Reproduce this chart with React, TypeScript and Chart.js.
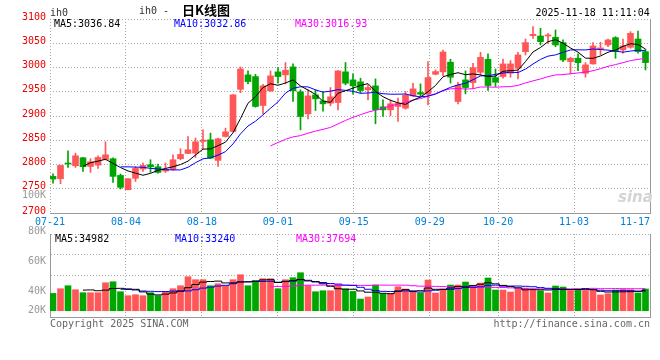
import React, { useEffect, useRef } from "react";
import { Chart, registerables } from "chart.js";

Chart.register(...registerables);

// ---------------- data ----------------
const dates = [
  "07-21", "07-22", "07-23", "07-24", "07-25", "07-28", "07-29", "07-30", "07-31", "08-01",
  "08-04", "08-05", "08-06", "08-07", "08-08", "08-11", "08-12", "08-13", "08-14", "08-15",
  "08-18", "08-19", "08-20", "08-21", "08-22", "08-25", "08-26", "08-27", "08-28", "08-29",
  "09-01", "09-02", "09-03", "09-04", "09-05", "09-08", "09-09", "09-10", "09-11", "09-12",
  "09-15", "09-16", "09-17", "09-18", "09-19", "09-22", "09-23", "09-24", "09-25", "09-26",
  "09-29", "09-30", "10-09", "10-10", "10-13", "10-14", "10-15", "10-16", "10-17",
  "10-20", "10-21", "10-22", "10-23", "10-24", "10-27", "10-28", "10-29", "10-30", "10-31",
  "11-03", "11-04", "11-05", "11-06", "11-07", "11-10", "11-11", "11-12", "11-13", "11-14",
  "11-17",
];

const opens = [
  2775.5, 2770.7, 2802, 2797.4, 2813.9, 2796, 2798.8, 2810.5, 2811.9, 2777.5,
  2748, 2771.4, 2790.6, 2799.5, 2795.4, 2786.4, 2789.9, 2811.9, 2822.8, 2823.5,
  2847.5, 2850.9, 2808.4, 2857.8, 2868.1, 2955, 2984.8, 2981.3, 2921.6, 2951.8,
  2991, 2984.8, 3001.2, 2949.8, 2904.5, 2943.6, 2931.2, 2926.4, 2927.8, 2991,
  2974.5, 2970.4, 2953.9, 2962.1, 2918.9, 2912.7, 2919.6, 2916.1, 2941.5, 2948.4,
  2945, 2986.1, 2991, 3011, 2929.8, 2974.4, 2968.9, 2990.2, 3017,
  2979.2, 2981.3, 2988.1, 2998.4, 3032.7, 3065.7, 3065, 3065, 3062.3, 3051.3,
  3012.2, 3019.1, 2988.1, 3007.4, 3038.2, 3046.5, 3061.6, 3036.2, 3041.7, 3058.8,
  3032.7,
];

const highs = [
  2781, 2798.5, 2828.3, 2823.5, 2815, 2811.9, 2818, 2846.8, 2813.5, 2780.3,
  2771, 2796, 2803, 2809.8, 2800.9, 2803, 2820, 2832.4, 2857.8, 2854.4,
  2871.5, 2864.7, 2854.4, 2875, 2944, 3001, 2993, 2986.1, 2965.5, 2993,
  2999.9, 3010.2, 3007.4, 2953.9, 2953.9, 2953.9, 2950.5, 2958.7, 2993.5, 3010.2,
  2986.8, 2977.9, 2964.2, 2976.5, 2933.3, 2933.3, 2936.7, 2950.5, 2967.6, 2966.2,
  3012.2, 2995, 3036, 3017, 2969.6, 2993, 3008.7, 3031.4, 3028,
  2997, 3017.6, 3014.2, 3031.4, 3058.8, 3084.2, 3080.8, 3070.5, 3077.4, 3056.8,
  3021.1, 3028, 3010.1, 3051.3, 3052, 3058.8, 3063.6, 3058.8, 3073.9, 3075.3,
  3037.6,
];

const lows = [
  2761.7, 2760.4, 2794, 2794, 2785.8, 2783.7, 2792, 2809.5, 2763, 2749.4,
  2747.5, 2765, 2785.8, 2783.7, 2782.3, 2783.7, 2788.5, 2809.8, 2822.1, 2814.6,
  2832.4, 2811.9, 2796, 2856.4, 2867, 2948, 2966.2, 2918.2, 2904.5, 2950.5,
  2967.6, 2966.2, 2929.9, 2871.5, 2894.2, 2911.3, 2910, 2921, 2912.7, 2964.2,
  2945, 2947, 2933.3, 2883.9, 2899, 2900.4, 2888.7, 2914.1, 2940.2, 2941.5,
  2923, 2984.8, 2983, 2968, 2925, 2945.6, 2957.3, 2984.7, 2952.5,
  2960.7, 2977.9, 2979.9, 2976.5, 3025.9, 3060.2, 3046.5, 3049.9, 3043, 3012.2,
  2986.8, 2993.6, 2979.9, 3007, 3025.9, 3043, 3019, 3029.3, 3039.6, 3029.3,
  2995,
];

const closes = [
  2770, 2798.1, 2801, 2818, 2795.4, 2805.7, 2814.6, 2820, 2775.5, 2752.8,
  2770.7, 2792, 2798.1, 2795.4, 2783.7, 2789.9, 2809.8, 2820.8, 2830.4, 2846.8,
  2850.3, 2813.2, 2853, 2867.4, 2943.6, 2997, 2971, 2919.6, 2962.1, 2982.7,
  2981.3, 2994.4, 2951.8, 2899, 2941.5, 2935.4, 2925.1, 2939.5, 2993, 2967.6,
  2962.1, 2952.5, 2958.7, 2912.7, 2912.7, 2925.1, 2926.4, 2942.9, 2956, 2945,
  2979.3, 2991.6, 3032, 2980, 2963.4, 2958.6, 2999.8, 3021.1, 2962.8,
  2969.6, 3007.4, 3007.4, 3025.9, 3051.3, 3068.4, 3053.3, 3067.1, 3046.5, 3015.6,
  3019.1, 3010.1, 3005.3, 3044.4, 3040.3, 3056.8, 3032.7, 3044.4, 3070.5, 3032.7,
  3010.1,
];

const volumes = [
  29500, 37500, 42600, 35800, 30700, 30700, 30700, 47700, 49400, 32400,
  25600, 27300, 25600, 30700, 25600, 32400, 37500, 42600, 58000, 52900,
  52900, 42600, 46000, 42600, 52900, 61400, 42600, 51200, 54600, 54600,
  37500, 52900, 56300, 64800, 42600, 32400, 34100, 34100, 44300, 37500,
  32900, 19900, 23400, 43800, 28500, 29500, 40900, 37000, 32900, 30200,
  52300, 30200, 37000, 43800, 43800, 48900, 42100, 47200, 55800,
  35300, 35300, 31900, 37000, 38700, 37000, 34100, 30200, 42100, 40400,
  34600, 34600, 34600, 34600, 26800, 29000, 35300, 35800, 35800, 30200,
  37000,
];

const tickDates = ["07-21", "08-04", "08-18", "09-01", "09-15", "09-29", "10-20", "11-03", "11-17"];
const priceTicks = [2700, 2750, 2800, 2850, 2900, 2950, 3000, 3050, 3100];
const volAxisLabels = ["100K", "80K", "60K", "40K", "20K"];
const priceMaLegend = ["MA5:3036.84", "MA10:3032.86", "MA30:3016.93"];
const volMaLegend = ["MA5:34982", "MA10:33240", "MA30:37694"];
const maPeriods = [5, 10, 30];
const symbol = "ih0";
const titleName = "日K线图";
const timestamp = "2025-11-18 11:11:04";
const copyright = "Copyright 2025 SINA.COM";
const sourceUrl = "http://finance.sina.com.cn";

// ---------------- styles ----------------
const FONT = "'DejaVu Sans Mono', 'Liberation Mono', monospace";
const UP = "#ff5757";
const DOWN = "#00a600";
const GRID = "#aaaaaa";
const FRAME = "#999999";
const MA_COLORS = ["#000000", "#0000ff", "#ff00ff"];
const DATE_COLOR = "#0080d8";
const PRICE_LABEL = "#ee0000";
const VOL_LABEL = "#999999";

function movingAverage(values: number[], n: number): (number | null)[] {
  return values.map((_, i) => {
    if (i < n - 1) return null;
    let s = 0;
    for (let k = i - n + 1; k <= i; k++) s += values[k];
    return s / n;
  });
}

const candleColors = closes.map((c, i) => (c >= opens[i] ? UP : DOWN));
const pt = (i: number, y: any) => ({ x: i, y });

const X_MIN = -0.4;
const X_MAX = dates.length - 0.4;

function candleAxis() {
  return {
    type: "linear",
    display: false,
    offset: false,
    grid: { offset: false },
    min: X_MIN,
    max: X_MAX,
  };
}

function labelAxis(showLabels: boolean) {
  return {
    type: "linear",
    position: "bottom",
    offset: false,
    min: 0,
    max: dates.length - 1,
    afterBuildTicks: (s: any) => {
      s.ticks = [{ value: 0 }, ...tickDates.map((d) => ({ value: dates.indexOf(d) }))];
    },
    afterFit: (s: any) => {
      s.height = showLabels ? 19 : 0;
    },
    ticks: {
      display: showLabels,
      autoSkip: false,
      maxRotation: 0,
      minRotation: 0,
      align: "inner",
      padding: 3,
      color: DATE_COLOR,
      font: { family: FONT, size: 10 },
      callback: (_v: any, i: number) => (i === 0 ? "" : tickDates[i - 1]),
    },
    grid: { color: GRID, lineWidth: 1, drawTicks: false, offset: false },
    border: { display: true, color: FRAME, dash: [1, 2] },
  };
}

function rightFrame() {
  return {
    type: "linear",
    position: "right",
    min: 0,
    max: 1,
    ticks: { display: false },
    grid: { display: false, drawTicks: false },
    border: { display: true, color: FRAME },
    afterFit: (s: any) => {
      s.width = 0;
    },
  };
}

function maLines(values: number[], stepped: boolean) {
  return maPeriods.map((n, k) => ({
    type: "line",
    label: "MA" + n,
    data: movingAverage(values, n).map((v, i) => pt(i, v)),
    borderColor: MA_COLORS[k],
    borderWidth: 1,
    pointRadius: 0,
    tension: 0,
    stepped: stepped ? "middle" : false,
    spanGaps: false,
    xAxisID: "x",
    yAxisID: "y",
    order: 0,
  }));
}

const baseOptions = {
  responsive: false,
  animation: false,
  devicePixelRatio: 1,
  events: [],
  plugins: { legend: { display: false }, tooltip: { enabled: false } },
};

function priceConfig(): any {
  return {
    type: "bar",
    data: {
      datasets: [
        ...maLines(closes, false),
        {
          type: "bar",
          label: "body",
          data: opens.map((o, i) => pt(i, [o, closes[i]])),
          backgroundColor: candleColors,
          borderWidth: 0,
          barThickness: 6,
          minBarLength: 1,
          grouped: false,
          xAxisID: "x",
          yAxisID: "y",
          order: 1,
        },
        {
          type: "bar",
          label: "wick",
          data: lows.map((l, i) => pt(i, [l, highs[i]])),
          backgroundColor: candleColors,
          borderWidth: 0,
          barThickness: 1,
          grouped: false,
          xAxisID: "x",
          yAxisID: "y",
          order: 2,
        },
      ],
    },
    options: {
      ...baseOptions,
      layout: { padding: { left: 0, top: 19, right: 10, bottom: 0 } },
      scales: {
        x: candleAxis(),
        xLab: labelAxis(true),
        y: {
          type: "linear",
          position: "left",
          min: priceTicks[0],
          max: priceTicks[priceTicks.length - 1],
          afterBuildTicks: (s: any) => {
            s.ticks = priceTicks.map((v) => ({ value: v }));
          },
          afterFit: (s: any) => {
            s.width = 50;
          },
          ticks: {
            color: PRICE_LABEL,
            font: { family: FONT, size: 10 },
            padding: 4,
            labelOffset: -2,
            callback: (v: any) => String(v),
          },
          grid: { color: GRID, lineWidth: 1, drawTicks: false },
          border: { display: false, dash: [1, 2] },
        },
        yR: rightFrame(),
      },
    },
  };
}

const VOL_MIN = -10700;
const VOL_MAX = 130800;

function volumeConfig(): any {
  return {
    type: "bar",
    data: {
      datasets: [
        ...maLines(volumes, true),
        {
          type: "bar",
          label: "volume",
          data: volumes.map((v, i) => pt(i, v)),
          backgroundColor: candleColors,
          borderWidth: 0,
          barThickness: 6,
          grouped: false,
          xAxisID: "x",
          yAxisID: "y",
          order: 1,
        },
      ],
    },
    options: {
      ...baseOptions,
      layout: { padding: { left: 0, top: 6, right: 10, bottom: 1 } },
      scales: {
        x: candleAxis(),
        xLab: labelAxis(false),
        y: {
          type: "linear",
          position: "left",
          min: VOL_MIN,
          max: VOL_MAX,
          afterBuildTicks: (s: any) => {
            const r = VOL_MAX - VOL_MIN;
            s.ticks = [0, 0.25, 0.5].map((f) => ({ value: VOL_MAX - r * f }));
          },
          afterFit: (s: any) => {
            s.width = 50;
          },
          ticks: { display: false },
          grid: { color: GRID, lineWidth: 1, drawTicks: false },
          border: { display: true, color: FRAME, dash: [1, 2] },
        },
        yR: rightFrame(),
      },
    },
  };
}

// ---------------- component ----------------
const abs = (left: number, top: number, extra: any = {}) => ({
  position: "absolute" as const,
  left,
  top,
  whiteSpace: "pre" as const,
  ...extra,
});

const volLabelTops = [189, 225, 255, 284.5, 304];
const maLeft = [54, 174, 295];

export default function App() {
  const priceRef = useRef<HTMLCanvasElement>(null);
  const volRef = useRef<HTMLCanvasElement>(null);

  useEffect(() => {
    const pc = new Chart(priceRef.current as HTMLCanvasElement, priceConfig());
    const vc = new Chart(volRef.current as HTMLCanvasElement, volumeConfig());
    return () => {
      pc.destroy();
      vc.destroy();
    };
  }, []);

  return (
    <div
      style={{
        position: "absolute",
        left: 0,
        top: 0,
        width: 660,
        height: 360,
        overflow: "hidden",
        background: "#ffffff",
        fontFamily: FONT,
        fontSize: 10,
        lineHeight: "12px",
        color: "#000",
      }}
    >
      <canvas ref={priceRef} width={660} height={232} style={{ position: "absolute", left: 0, top: 0 }} />
      <canvas ref={volRef} width={660} height={90} style={{ position: "absolute", left: 0, top: 228 }} />

      <div style={abs(50, 6.5, { color: "#333" })}>{symbol}</div>
      <div style={abs(139, 5, { color: "#333" })}>{symbol + " -"}</div>
      <div
        style={abs(182, 3, {
          fontFamily: "'Noto Sans CJK SC', sans-serif",
          fontSize: 13,
          fontWeight: "bold",
          lineHeight: "13px",
          color: "#000",
        })}
      >
        {titleName}
      </div>
      <div style={abs(535.5, 6.5)}>{timestamp}</div>

      {priceMaLegend.map((t, k) => (
        <div key={"pm" + k} style={abs(maLeft[k], 18, { color: MA_COLORS[k] })}>
          {t}
        </div>
      ))}
      {volMaLegend.map((t, k) => (
        <div key={"vm" + k} style={abs(maLeft[k] + 1, 232.5, { color: MA_COLORS[k] })}>
          {t}
        </div>
      ))}
      {volAxisLabels.map((t, k) => (
        <div key={"vl" + k} style={abs(0, volLabelTops[k], { width: 46, textAlign: "right", color: VOL_LABEL })}>
          {t}
        </div>
      ))}

      <div
        style={abs(618, 189, {
          fontFamily: "'DejaVu Sans', sans-serif",
          fontStyle: "italic",
          fontWeight: "bold",
          fontSize: 15,
          lineHeight: "16px",
          color: "#d4d4d4",
        })}
      >
        sina
      </div>

      <div style={abs(50, 318, { color: "#666" })}>{copyright}</div>
      <div style={abs(0, 318, { width: 650, textAlign: "right", color: "#666" })}>{sourceUrl}</div>
    </div>
  );
}
